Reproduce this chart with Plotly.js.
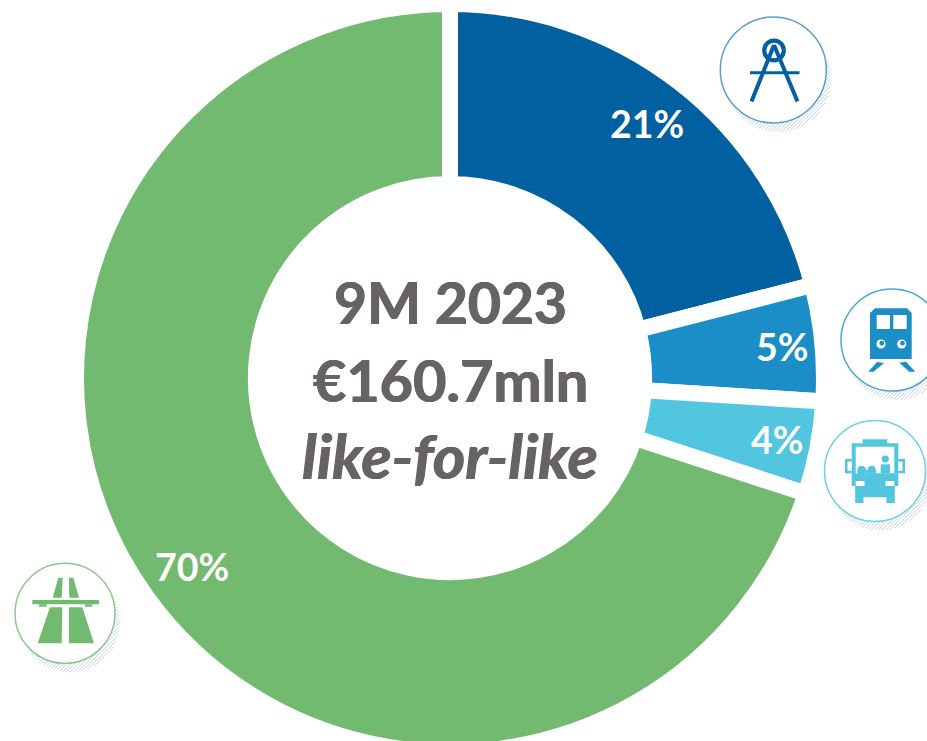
<!DOCTYPE html>
<html>
<head>
<meta charset="utf-8">
<script src="https://cdn.plot.ly/plotly-3.0.1.min.js"></script>
<style>
html,body{margin:0;padding:0;background:#fff;overflow:hidden;width:927px;height:741px}
#chart{width:927px;height:760px}
</style>
</head>
<body>
<div id="chart"></div>
<script>
var categories = ["Engineering", "Rail", "Bus", "Motorways"];
var shares = [21, 5, 4, 70];
var sliceColors = ["#0060A0", "#1B8EC7", "#52C5DF", "#71BA6F"];
var centerLines = ["9M 2023", "€160.7mln", "like-for-like"];

var W = 900, H = 748, T = 4;
function px(x){ return +(x / W).toFixed(6); }
function py(y){ return +(1 - (y - T) / H).toFixed(6); }
function poly(points){
  return "M" + points.map(function(p){ return px(p[0]) + "," + py(p[1]); }).join("L") + "Z";
}
var shapes = [];
function fillPoly(points, color){
  shapes.push({type:"path", xref:"paper", yref:"paper", path:poly(points), fillcolor:color, line:{width:0}});
}
function rect(x0,y0,x1,y1,color){
  fillPoly([[x0,y0],[x1,y0],[x1,y1],[x0,y1]], color);
}
function circle(cx,cy,r,fill,lineColor,lineWidth,layer){
  shapes.push({type:"circle", xref:"paper", yref:"paper", layer:layer||"above",
    x0:px(cx-r), x1:px(cx+r), y0:py(cy+r), y1:py(cy-r),
    fillcolor:fill||"rgba(0,0,0,0)", line:{color:lineColor||"rgba(0,0,0,0)", width:lineWidth||0}});
}
function seg(a,b,color,width){
  shapes.push({type:"line", xref:"paper", yref:"paper", x0:px(a[0]), y0:py(a[1]), x1:px(b[0]), y1:py(b[1]), line:{color:color,width:width}});
}
// decorative hatched drop-shadow behind each icon badge
function hatch(cx,cy,r,color){
  var sx = cx + 5, sy = cy + 9, d = "";
  for (var c = -2*r; c <= 2*r; c += 2.6){
    var ux = Math.SQRT1_2, uy = -Math.SQRT1_2, nx = Math.SQRT1_2, ny = Math.SQRT1_2;
    var ox = sx + nx*c, oy = sy + ny*c;
    if (Math.abs(c) >= r) continue;
    var half = Math.sqrt(r*r - c*c);
    var pdx = cx - ox, pdy = cy - oy;
    var along = pdx*ux + pdy*uy, perp = Math.abs(pdx*nx + pdy*ny);
    var tsA = [[-half, half]];
    if (perp < r){
      var h2 = Math.sqrt(r*r - perp*perp), lo = along - h2, hi = along + h2;
      tsA = [];
      if (lo > -half) tsA.push([-half, Math.min(lo, half)]);
      if (hi < half) tsA.push([Math.max(hi, -half), half]);
    }
    tsA.forEach(function(t){
      if (t[1] - t[0] < 0.3) return;
      d += "M" + px(ox+ux*t[0]) + "," + py(oy+uy*t[0]) + "L" + px(ox+ux*t[1]) + "," + py(oy+uy*t[1]);
    });
  }
  shapes.push({type:"path", xref:"paper", yref:"paper", layer:"below", path:d, line:{color:color,width:1}});
}
function badge(cx,cy,r,ring){
  hatch(cx,cy,r,"#C3D3E4");
  circle(cx,cy,r,"#FFFFFF",ring,1.5);
}

// Compass
badge(773.3,70,53,"#5C9CCB");
circle(774,50.5,9.8,null,"#0060A0",4.2);
seg([774,45],[751.5,101.5],"#0060A0",4);
seg([774,45],[797.5,101.5],"#0060A0",4);
seg([750,72.7],[799.5,72.7],"#0060A0",3);

// Train
var rail = "#1B8EC7";
badge(892,340,51,"#4BA6D6");
fillPoly([[870,313],[875,308.3],[907,308.3],[911.7,313],[911.7,359],[870,359]], rail);
rect(876.7,315,890,329,"#FFFFFF");
rect(893.3,315,906.7,329,"#FFFFFF");
circle(881,344,4.6,"#FFFFFF");
circle(881.8,343.2,2.4,rail);
circle(901.7,344,4.6,"#FFFFFF");
circle(902.5,343.2,2.4,rail);
fillPoly([[868.3,371.7],[877,362],[884,363],[873.5,371.7]], rail);
fillPoly([[899.3,362.7],[906,361.7],[915.3,371.7],[909.3,371.7]], rail);

// Bus
var bus = "#52C5DF";
badge(875,471,50.5,"#6FD0E6");
rect(862.7,439.3,887.3,443.8,bus);
rect(851.7,443.3,898.3,497.3,bus);
rect(855.7,446.7,894.3,473.3,"#FFFFFF");
rect(845,459,851.7,473.3,bus);
rect(898.3,459,905,473.3,bus);
rect(847.5,461.5,851.7,470.8,"#FFFFFF");
rect(898.3,461.5,902.5,470.8,"#FFFFFF");
circle(861.7,470,4.2,bus);
circle(871.7,470,4.2,bus);
rect(857.5,470,875.9,473.3,bus);
circle(885.3,459,3.6,bus);
rect(880.7,464.3,890,473.3,bus);
rect(855.7,481,864.5,486,"#FFFFFF");
rect(885.5,481,894.3,486,"#FFFFFF");
rect(851,486,855.2,498,"#FFFFFF");
rect(894.8,486,899,498,"#FFFFFF");
rect(855.2,497,863.5,503,bus);
rect(886.5,497,894.8,503,bus);

// Motorway
var road = "#71BA6F";
badge(65,613.3,50,"#8CC88A");
fillPoly([[58.3,577.7],[62.7,577.7],[61.7,597.7],[52.7,597.7]], road);
fillPoly([[69,577.7],[73.3,577.7],[79,597.7],[69.3,597.7]], road);
rect(32.3,600,99,604.3,road);
rect(39,604.3,46.7,606.7,road);
rect(85,604.3,92.3,606.7,road);
fillPoly([[50,607.2],[62.3,607.2],[61.7,643.3],[37.7,643.3]], road);
fillPoly([[69,607.2],[82.3,607.2],[94,643.3],[69,643.3]], road);

var labelSpots = [[647.5,123.5],[782.5,346.5],[777,439.5],[191.5,566]];
var centerSpots = [[450,302],[450,379],[450,455]];
var centerSizes = [57, 57.5, 62];
var annotations = shares.map(function(v,i){
  return {xref:"paper", yref:"paper", x:px(labelSpots[i][0]), y:py(labelSpots[i][1]),
    xanchor:"center", yanchor:"middle", showarrow:false, text:"<b>"+v+"%</b>",
    font:{family:"Lato, sans-serif", size:37.5, color:"#FFFFFF"}};
}).concat(centerLines.map(function(t,i){
  return {xref:"paper", yref:"paper", x:px(centerSpots[i][0]), y:py(centerSpots[i][1]),
    xanchor:"center", yanchor:"middle", showarrow:false,
    text:i===2 ? "<b><i>"+t+"</i></b>" : "<b>"+t+"</b>",
    font:{family:"Lato, sans-serif", size:centerSizes[i], color:"#666362",
      shadow:"0.6px 0 0 #666362, -0.6px 0 0 #666362"}};
}));

Plotly.newPlot("chart", [{
  type:"pie",
  labels:categories,
  values:shares,
  sort:false,
  direction:"clockwise",
  rotation:0,
  hole:0.519,
  textinfo:"none",
  hoverinfo:"skip",
  marker:{colors:sliceColors, line:{color:"#FFFFFF", width:16}}
}], {
  width:927, height:760,
  margin:{l:0, r:27, t:4, b:8},
  paper_bgcolor:"#FFFFFF",
  showlegend:false,
  shapes:shapes,
  annotations:annotations
}, {displayModeBar:false, staticPlot:true});
</script>
</body>
</html>
